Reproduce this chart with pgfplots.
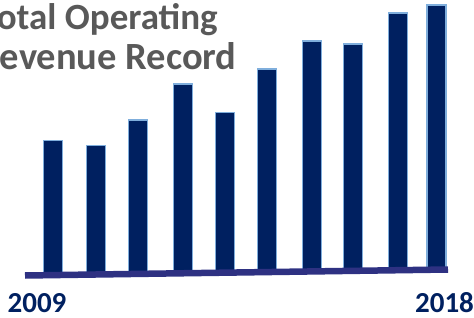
\documentclass[border=0pt]{standalone}
\usepackage{pgfplots}
\pgfplotsset{compat=1.18}
\usepackage{fontspec}
\setmainfont{Carlito}
\definecolor{barnavy}{HTML}{002060}
\definecolor{baredge}{HTML}{7FAEDC}
\definecolor{baseln}{HTML}{2E3182}
\definecolor{titlegrey}{HTML}{595959}
\begin{document}
\begin{tikzpicture}
\useasboundingbox (0,0) rectangle (474pt,317pt);
\clip (0,0) rectangle (474pt,317pt);
\begin{axis}[
  at={(0,0)}, anchor=south west,
  scale only axis, width=474pt, height=317pt,
  xmin=0, xmax=474, ymin=0, ymax=317,
  hide axis, clip=false,
  ybar stacked, bar width=19,
]
% invisible base of each bar (where the sloped base line lies)
\addplot[draw=none, fill=none] coordinates {
  (53.3,41.9) (96.3,42.5) (138,43.1) (183,43.7) (225.3,44.3)
  (267,44.9) (312,45.6) (353,46.2) (398,46.8) (436.5,47.3)};
% revenue bars 2009--2018
\addplot[fill=barnavy, draw=baredge, line width=1.2pt] coordinates {
  (53.3,134.4) (96.3,129.2) (138,153.9) (183,189.3) (225.3,160.4)
  (267,203.1) (312,230.4) (353,226.8) (398,257.2) (436.5,264.7)};
\end{axis}
\begin{axis}[
  at={(0,0)}, anchor=south west,
  scale only axis, width=474pt, height=317pt,
  xmin=0, xmax=474, ymin=0, ymax=317,
  hide axis, clip=false,
]
\addplot[baseln, line width=6.5pt, line cap=butt] coordinates {(25,41.5) (448,47.5)};
\end{axis}
\node[anchor=base west, text=titlegrey, inner sep=0pt, font=\fontsize{37}{42}\selectfont\bfseries] at (-18.5pt,287.5pt) {Total Operating};
\node[anchor=base west, text=titlegrey, inner sep=0pt, font=\fontsize{38.5}{44}\selectfont\bfseries] at (-21.5pt,247.5pt) {Revenue Record};
\node[anchor=base, text=barnavy, inner sep=0pt, font=\fontsize{29}{34}\selectfont\bfseries] at (37pt,5pt) {2009};
\node[anchor=base, text=barnavy, inner sep=0pt, font=\fontsize{29}{34}\selectfont\bfseries] at (444.5pt,5pt) {2018};
\end{tikzpicture}
\end{document}
